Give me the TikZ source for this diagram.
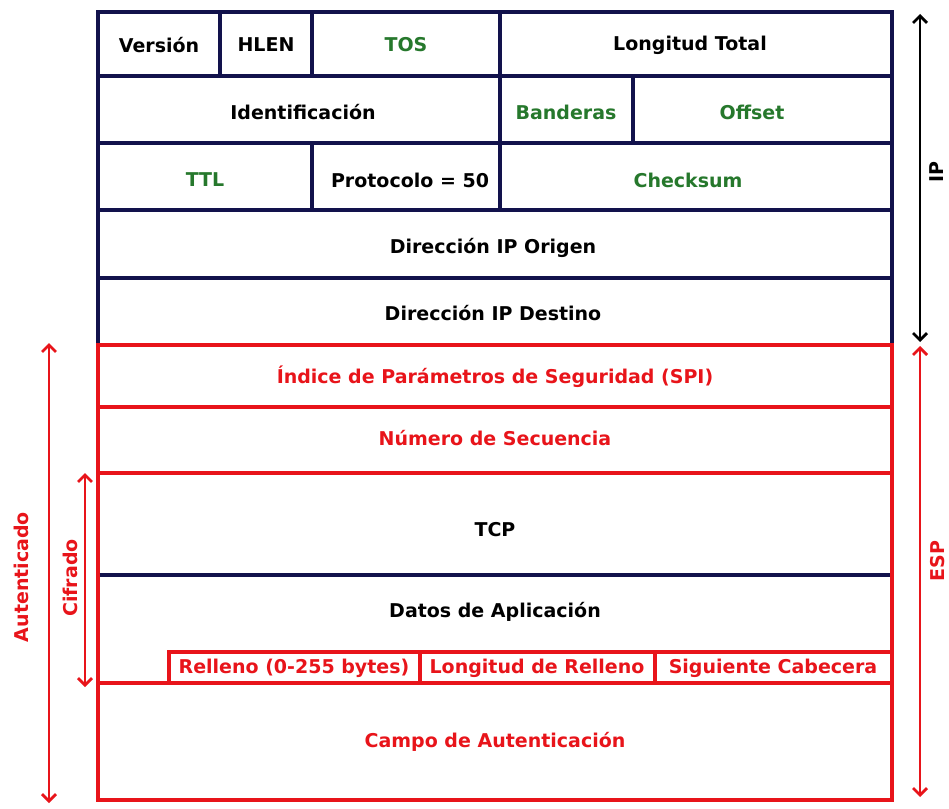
\documentclass[tikz,border=0pt]{standalone}
\usepackage{fontspec}
\setmainfont{DejaVu Sans}
\usetikzlibrary{arrows.meta}
\definecolor{navy}{RGB}{18,18,76}
\definecolor{espred}{RGB}{232,20,26}
\definecolor{fieldgreen}{RGB}{38,120,44}
\begin{document}
\begin{tikzpicture}[x=1pt,y=-1pt,
  navyline/.style={draw=navy,line width=3.2pt},
  redline/.style={draw=espred,line width=3.2pt},
  field/.style={font=\fontsize{19}{22}\selectfont\bfseries,inner sep=0pt,text=black},
  greenfield/.style={field,text=fieldgreen},
  redfield/.style={field,text=espred},
  span/.style={line width=2.8pt,{Straight Barb[length=7pt,width=14pt]}-{Straight Barb[length=7pt,width=14pt]}},
  spanlabel/.style={field,rotate=90}]
\useasboundingbox[fill=white] (0,0) rectangle (949,808);

% ---- IP header (navy grid) ----
\draw[navyline] (98,12) rectangle (892,345);
\draw[navyline] (98,76) -- (892,76);
\draw[navyline] (98,143) -- (892,143);
\draw[navyline] (98,210) -- (892,210);
\draw[navyline] (98,278) -- (892,278);
\draw[navyline] (220,12) -- (220,76);
\draw[navyline] (312,12) -- (312,76);
\draw[navyline] (500,12) -- (500,210);
\draw[navyline] (633,76) -- (633,143);
\draw[navyline] (312,143) -- (312,210);

% ---- ESP part (red grid) ----
\draw[redline] (98,345) rectangle (892,800);
\draw[redline] (98,407) -- (892,407);
\draw[redline] (98,473) -- (892,473);
\draw[redline] (98,683) -- (892,683);
\draw[navyline] (99.6,575) -- (890.4,575);
\draw[redline] (169,683) -- (169,652) -- (892,652);
\draw[redline] (420,652) -- (420,683);
\draw[redline] (655,652) -- (655,683);

% ---- field labels ----
\node[field] (version) at (159,45) {Versión};
\node[field] (hlen) at (266,45) {HLEN};
\node[greenfield] (tos) at (406,45) {TOS};
\node[field] (longtotal) at (690,45) {Longitud Total};
\node[field] (ident) at (303,112) {Identificación};
\node[greenfield] (flags) at (566,112) {Banderas};
\node[greenfield] (offset) at (752,112) {Offset};
\node[greenfield] (ttl) at (205,180) {TTL};
\node[field] (proto) at (410,180) {Protocolo = 50};
\node[greenfield] (checksum) at (688,180) {Checksum};
\node[field] (srcip) at (493,248) {Dirección IP Origen};
\node[field] (dstip) at (493,313) {Dirección IP Destino};

\node[redfield] (spi) at (495,377) {Índice de Parámetros de Seguridad (SPI)};
\node[redfield] (seq) at (495,438) {Número de Secuencia};
\node[field] (tcp) at (495,530) {TCP};
\node[field] (data) at (495,612) {Datos de Aplicación};
\node[redfield] (pad) at (294,668) {Relleno (0-255 bytes)};
\node[redfield] (padlen) at (537,668) {Longitud de Relleno};
\node[redfield] (next) at (773,668) {Siguiente Cabecera};
\node[redfield] (auth) at (495,742) {Campo de Autenticación};

% ---- extent arrows ----
\coordinate (ipTop) at (920,14);
\coordinate (ipBot) at (920,342);
\coordinate (espTop) at (920,346);
\coordinate (espBot) at (920,797);
\coordinate (autTop) at (49,343);
\coordinate (autBot) at (49,803);
\coordinate (cifTop) at (85,473);
\coordinate (cifBot) at (85,687);
\draw[span,black] (ipTop) -- (ipBot);
\draw[span,espred] (espTop) -- (espBot);
\draw[span,espred] (autTop) -- (autBot);
\draw[span,espred] (cifTop) -- (cifBot);

\node[spanlabel] (iplabel) at (937,172) {IP};
\node[spanlabel,text=espred] (esplabel) at (938,561) {ESP};
\node[spanlabel,text=espred] (autlabel) at (21,577) {Autenticado};
\node[spanlabel,text=espred] (ciflabel) at (70,578) {Cifrado};
\end{tikzpicture}
\end{document}
